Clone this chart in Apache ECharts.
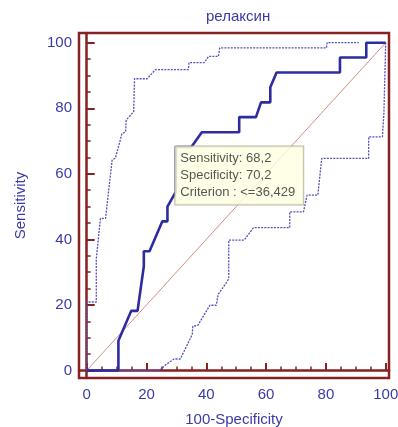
<!DOCTYPE html>
<html>
<head>
<meta charset="utf-8">
<script src="https://cdn.jsdelivr.net/npm/echarts@6/dist/echarts.min.js"></script>
<style>
html, body { margin: 0; padding: 0; background: #fff; }
#chart { width: 398px; height: 427px; }
</style>
</head>
<body>
<div id="chart"></div>
<script>
// ROC curve data ([100-Specificity, Sensitivity])
const chartTitle = 'релаксин'
const xName = '100-Specificity'
const yName = 'Sensitivity'

const majorTicks = [0, 20, 40, 60, 80, 100]
const minorTicks = [5, 10, 15, 25, 30, 35, 45, 50, 55, 65, 70, 75, 85, 90, 95]

const rocCurve = [
  [0, 0], [10.6, 0], [10.6, 9.1], [14.9, 18.2], [17.0, 18.2], [19.1, 31.8], [19.1, 36.4],
  [21.0, 36.4], [25.3, 45.5], [27.0, 45.5], [27.0, 50.0], [29.8, 54.5], [29.8, 68.2],
  [35.0, 68.2], [38.5, 72.7], [51.0, 72.7], [51.0, 77.3], [56.6, 77.3], [58.3, 81.8],
  [61.4, 81.8], [61.4, 86.4], [63.5, 90.9], [84.7, 90.9], [84.7, 95.5], [93.5, 95.5],
  [93.5, 100], [100, 100]
]
const upperBand = [
  [0, 0], [0, 20.9], [3.2, 20.9], [3.2, 34.0], [4.2, 43.0], [4.6, 46.4], [6.3, 46.4],
  [8.5, 64.2], [9.6, 64.8], [11.8, 72.3], [13.0, 72.8], [13.2, 76.4], [15.7, 78.9],
  [16.0, 89.0], [20.2, 89.0], [23.0, 91.8], [34.0, 91.8], [34.2, 93.9], [39.3, 93.9],
  [40.7, 95.8], [44.0, 95.8], [44.5, 98.4], [80.2, 98.4], [80.4, 100], [91.0, 100]
]
const lowerBand = [
  [0, 0], [24.3, 0], [26.5, 1.8], [29.2, 3.5], [31.3, 3.5], [35.3, 11.0], [35.5, 13.5],
  [37.2, 13.8], [41.2, 19.9], [43.3, 19.9], [44.0, 23.3], [46.9, 27.0], [47.5, 28.0],
  [47.5, 39.8], [52.7, 39.8], [55.8, 43.6], [67.9, 43.6], [67.9, 48.4], [72.5, 48.4],
  [73.7, 53.5], [77.3, 53.5], [78.6, 64.7], [94.3, 64.7], [94.3, 71.3], [98.9, 71.3],
  [99.4, 78.7], [100, 79.0], [100, 100]
]
const diagonal = [[0, 0], [100, 100]]

// optimal criterion
const criterionPoint = [29.8, 68.2]
const sensitivity = 68.2
const specificity = 70.2
const criterionText = '<=36,429'

const frameColor = '#862222'
const textBlue = '#3a3aa6'
const fontFamily = '"Liberation Sans", Arial, sans-serif'

// axis extents: a little padding round 0..100 like the original frame
const xMin = -2.58
const xMax = 101.1
const yMin = -2.29
const yMax = 102.96

const fmt = (v) => String(v).replace('.', ',')

const myChart = echarts.init(document.getElementById('chart'))
const gridBox = { left: 79, right: 9, top: 33, bottom: 49, containLabel: false, outerBoundsMode: 'none' }

const option = {
  animation: false,
  title: {
    text: chartTitle,
    left: 206,
    top: 9,
    padding: 0,
    textStyle: { color: textBlue, fontSize: 15, fontWeight: 'normal', fontFamily: fontFamily }
  },
  grid: [
    // frame + minor ticks
    Object.assign({ show: true, borderColor: frameColor, borderWidth: 2.5, backgroundColor: 'transparent' }, gridBox),
    // major ticks, labels, data
    Object.assign({}, gridBox)
  ],
  xAxis: [
    {
      type: 'value',
      gridIndex: 0,
      min: xMin,
      max: xMax,
      axisLine: { show: false },
      axisTick: { show: true, inside: true, length: 4, customValues: minorTicks, lineStyle: { color: frameColor, width: 1.5 } },
      axisLabel: { show: false },
      splitLine: { show: false }
    },
    {
      type: 'value',
      gridIndex: 1,
      min: xMin,
      max: xMax,
      name: xName,
      nameLocation: 'middle',
      nameGap: 34,
      nameTextStyle: { color: textBlue, fontSize: 15, fontFamily: fontFamily },
      axisLine: { show: true, lineStyle: { color: frameColor, width: 2.5 } },
      axisTick: { show: true, inside: true, length: 7.5, customValues: majorTicks, lineStyle: { color: frameColor, width: 2 } },
      axisLabel: { color: textBlue, fontSize: 15, margin: 9, fontFamily: fontFamily, customValues: majorTicks },
      splitLine: { show: false }
    }
  ],
  yAxis: [
    {
      type: 'value',
      gridIndex: 0,
      min: yMin,
      max: yMax,
      axisLine: { show: false },
      axisTick: { show: true, inside: true, length: 4, customValues: minorTicks, lineStyle: { color: frameColor, width: 1.5 } },
      axisLabel: { show: false },
      splitLine: { show: false }
    },
    {
      type: 'value',
      gridIndex: 1,
      min: yMin,
      max: yMax,
      name: yName,
      nameLocation: 'middle',
      nameGap: 51,
      nameTextStyle: { color: textBlue, fontSize: 15, fontFamily: fontFamily },
      axisLine: { show: true, lineStyle: { color: frameColor, width: 2.5 } },
      axisTick: { show: true, inside: true, length: 8, customValues: majorTicks, lineStyle: { color: frameColor, width: 2 } },
      axisLabel: { color: textBlue, fontSize: 15, margin: 7, fontFamily: fontFamily, customValues: majorTicks },
      splitLine: { show: false }
    }
  ],
  series: [
    {
      name: 'diagonal',
      type: 'line',
      xAxisIndex: 1,
      yAxisIndex: 1,
      data: diagonal,
      symbol: 'none',
      lineStyle: { color: '#d08e84', width: 1 },
      z: 1
    },
    {
      name: 'upper',
      type: 'line',
      xAxisIndex: 1,
      yAxisIndex: 1,
      data: upperBand,
      symbol: 'none',
      lineStyle: { color: '#5050c0', width: 1.3, type: [2, 1.2] },
      z: 2
    },
    {
      name: 'lower',
      type: 'line',
      xAxisIndex: 1,
      yAxisIndex: 1,
      data: lowerBand,
      symbol: 'none',
      lineStyle: { color: '#5050c0', width: 1.3, type: [2, 1.2] },
      z: 2
    },
    {
      name: 'ROC',
      type: 'line',
      xAxisIndex: 1,
      yAxisIndex: 1,
      data: rocCurve,
      symbol: 'none',
      lineStyle: { color: '#2c2ca0', width: 2.6 },
      z: 3
    },
    {
      name: 'criterion',
      type: 'scatter',
      xAxisIndex: 1,
      yAxisIndex: 1,
      data: [criterionPoint],
      symbolSize: 1,
      itemStyle: { color: 'rgba(0,0,0,0)' },
      z: 5,
      label: {
        show: true,
        position: [0, 0],
        align: 'left',
        verticalAlign: 'top',
        formatter: 'Sensitivity: ' + fmt(sensitivity) + '\nSpecificity: ' + fmt(specificity) + '\nCriterion : ' + criterionText,
        color: '#2a2a2a',
        fontSize: 13,
        lineHeight: 17,
        fontFamily: fontFamily,
        backgroundColor: '#ffffe1',
        borderColor: '#a8a890',
        borderWidth: 1,
        padding: [3, 8, 4, 5]
      }
    }
  ]
}
myChart.setOption(option)
</script>
</body>
</html>
